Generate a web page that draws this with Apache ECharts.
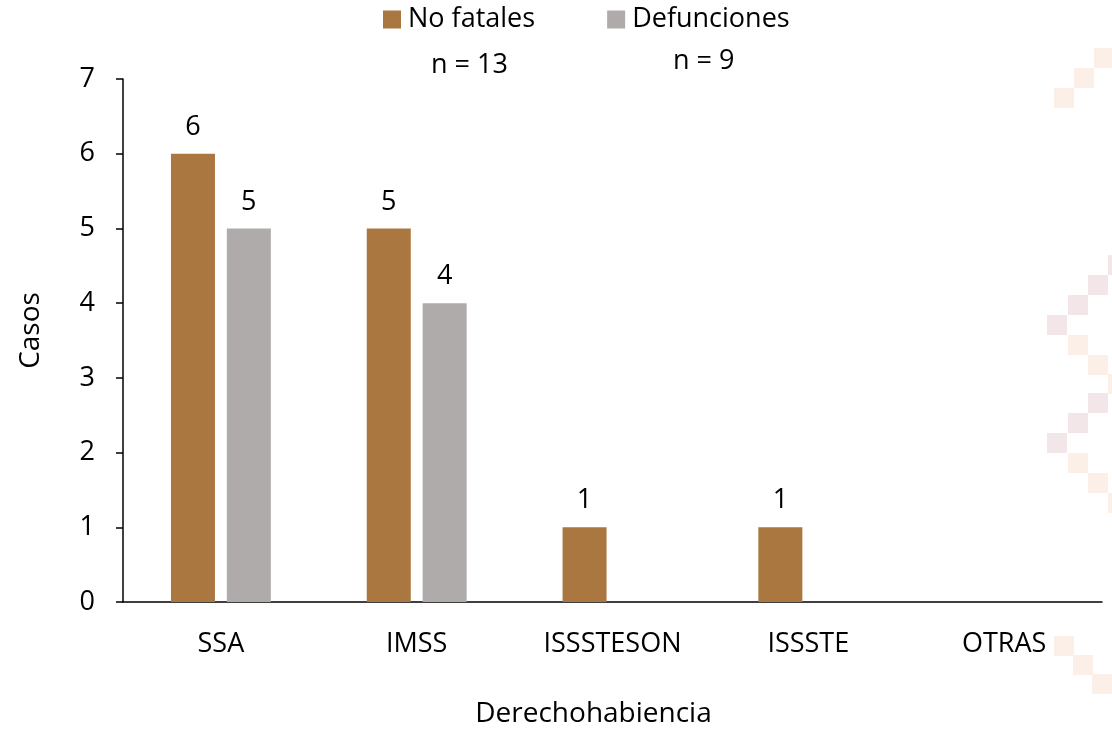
<!DOCTYPE html>
<html><head><meta charset="utf-8">
<script src="https://cdn.jsdelivr.net/npm/echarts@6/dist/echarts.min.js"></script>
<style>html,body{margin:0;padding:0;background:#fff}#c{width:1112px;height:730px}</style>
</head><body><div id="c"></div>
<script>
const categories = ['SSA', 'IMSS', 'ISSSTESON', 'ISSSTE', 'OTRAS'];
const noFatales = [6, 5, 1, 1, 0];
const defunciones = [5, 4, 0, 0, 0];
const seriesNames = ['No fatales', 'Defunciones'];
const nLabels = ['n = 13', 'n = 9'];
const yTicks = [0, 1, 2, 3, 4, 5, 6, 7];

const FONT = 'Open Sans';
const peach = '#FBEFE8', pink = '#F3E6E8';
const deco = [
  [1094,48,peach],[1074,68,peach],[1054,88,peach],
  [1108,255,pink],[1088,275,pink],[1068,295,pink],[1047,315,pink],
  [1068,335,peach],[1088,355,peach],[1108,374,peach],
  [1088,393,pink],[1068,413,pink],[1047,433,pink],
  [1068,453,peach],[1088,473,peach],[1108,493,peach],
  [1054,636,peach],[1073,655,peach],[1092,674,peach]
];
const graphics = deco.map(d => ({type:'rect', z:-10, silent:true, shape:{x:d[0], y:d[1], width:20, height:20}, style:{fill:d[2]}}));
graphics.push({type:'text', left:431, top:52, style:{text:nLabels[0], font:'27px "' + FONT + '"', fill:'#000'}});
graphics.push({type:'text', left:673, top:48, style:{text:nLabels[1], font:'27px "' + FONT + '"', fill:'#000'}});

const chart = echarts.init(document.getElementById('c'));
const lbl = {show:true, position:'top', distance:13, color:'#000', fontSize:27, fontFamily:FONT,
  formatter: p => p.value === 0 ? '' : String(p.value)};
chart.setOption({
  animation:false,
  textStyle:{fontFamily:FONT},
  graphic: graphics,
  legend:{data:seriesNames, top:6, left:383, padding:0, itemWidth:18, itemHeight:18, itemGap:72,
    icon:'rect', textStyle:{fontSize:27, color:'#000', fontFamily:FONT, padding:[0,0,0,2]}},
  grid:{left:123, right:10, top:79, bottom:128, outerBoundsMode:'none', containLabel:false},
  xAxis:{type:'category', data:categories,
    axisLine:{lineStyle:{color:'#000', width:1.5}},
    axisTick:{alignWithLabel:true, length:7, lineStyle:{color:'#000', width:1.5}},
    axisLabel:{color:'#000', fontSize:27, margin:29, fontFamily:FONT},
    name:'Derechohabiencia', nameLocation:'middle', nameGap:98,
    nameTextStyle:{color:'#000', fontSize:28, fontFamily:FONT, padding:[0,38,0,0]}},
  yAxis:{type:'value', min:0, max:7, interval:1,
    axisLine:{show:true, lineStyle:{color:'#000', width:1.5}},
    axisTick:{show:true, length:7, lineStyle:{color:'#000', width:1.5}},
    splitLine:{show:false},
    axisLabel:{color:'#000', fontSize:27, margin:28, fontFamily:FONT,
      formatter: v => yTicks.includes(v) ? String(v) : ''},
    name:'Casos', nameLocation:'middle', nameGap:78, nameRotate:90,
    nameTextStyle:{color:'#000', fontSize:28, fontFamily:FONT, padding:[0,0,0,20]}},
  series:[
    {name:seriesNames[0], type:'bar', data:noFatales, barWidth:44, barGap:'27%',
      itemStyle:{color:'#A9773F'}, label:lbl},
    {name:seriesNames[1], type:'bar', data:defunciones, barWidth:44,
      itemStyle:{color:'#AFABAB'}, label:lbl}
  ]
});
</script></body></html>
